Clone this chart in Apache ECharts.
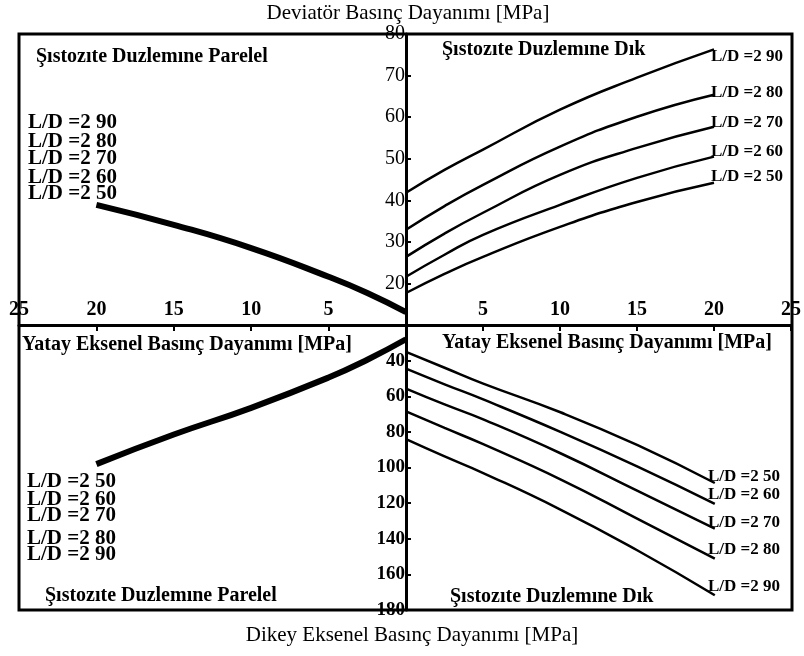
<!DOCTYPE html>
<html>
<head>
<meta charset="utf-8">
<script src="https://cdn.jsdelivr.net/npm/echarts@6/dist/echarts.min.js"></script>
<style>html,body{margin:0;padding:0;background:#fff;}#c{width:804px;height:656px;}</style>
</head>
<body>
<div id="c"></div>
<script>
// ---- data ----
var xHoriz = [0, 2.5, 5, 10, 15, 20];           // Yatay Eksenel Basınç Dayanımı [MPa]
var ldLabels = ['2 50', '2 60', '2 70', '2 80', '2 90'];
// upper right: Deviatör, Şıstozıte Duzlemıne Dık
var devDik250 = [17.7, 22.3, 26.4, 33.6, 39.6, 44.2];
var devDik260 = [21.6, 26.9, 31.7, 38.9, 45.4, 50.5];
var devDik270 = [26.4, 32.0, 37.0, 46.1, 52.6, 57.7];
var devDik280 = [32.9, 38.6, 43.7, 52.9, 60.1, 65.4];
var devDik290 = [41.8, 47.3, 52.2, 61.8, 69.5, 76.3];
// upper left: Deviatör, Parelel (all L/D coincide)
var devPar = [13.1, 17.7, 21.6, 28.5, 34.1, 38.9];
// lower right: Dikey, Dık
var dikDik250 = [35.1, 44.0, 52.9, 69.0, 87.5, 108.7];
var dikDik260 = [44.5, 53.3, 61.8, 80.0, 99.5, 120.4];
var dikDik270 = [55.7, 64.6, 73.0, 92.0, 113.1, 134.3];
var dikDik280 = [68.5, 77.8, 86.9, 106.6, 128.8, 151.1];
var dikDik290 = [84.1, 93.8, 103.1, 123.6, 146.6, 171.7];
// lower left: Dikey, Parelel
var dikPar = [28.0, 39.5, 49.5, 66.5, 81.5, 98.1];

var xTicks = [5, 10, 15, 20, 25];
var devTicks = [20, 30, 40, 50, 60, 70, 80];
var dikTicks = [40, 60, 80, 100, 120, 140, 160, 180];

function pairs(ys) { return xHoriz.map(function (x, i) { return [x, ys[i]]; }); }

var SERIF = '"Liberation Serif", "DejaVu Serif", serif';
var L = 19, C = 406, R = 792, T = 34, M = 325, B = 610;

var chart = echarts.init(document.getElementById('c'), null, {renderer: 'canvas'});

function xAxisVisible(gi, inv) {
  return {
    gridIndex: gi, type: 'value', min: 0, max: 25, interval: 5, inverse: inv, position: 'bottom',
    axisLine: {show: true, onZero: false, lineStyle: {color: '#000', width: 3}},
    axisTick: {show: true, inside: false, length: 6, lineStyle: {color: '#000', width: 2}},
    axisLabel: {inside: true, margin: 5, color: '#000', fontFamily: SERIF, fontWeight: 'bold', fontSize: 20,
      formatter: function (v) { return xTicks.indexOf(v) >= 0 ? String(v) : ''; }},
    splitLine: {show: false}
  };
}

var lineSeries = [];
function addLine(xi, yi, ys, w) {
  lineSeries.push({type: 'line', xAxisIndex: xi, yAxisIndex: yi, data: pairs(ys), smooth: 0.5,
    symbol: 'none', lineStyle: {color: '#000', width: w}, silent: true, z: 3});
}
[devDik250, devDik260, devDik270, devDik280, devDik290].forEach(function (s) { addLine(1, 1, s, 2.5); });
addLine(0, 0, devPar, 6);
[dikDik250, dikDik260, dikDik270, dikDik280, dikDik290].forEach(function (s) { addLine(3, 3, s, 2.5); });
addLine(2, 2, dikPar, 6);

var graphics = [];
function txt(x, y, s, size, weight, align) {
  graphics.push({type: 'text', x: x, y: y, z: 10, style: {text: s, fill: '#000', font: (weight || 'normal') + ' ' + size + 'px ' + SERIF,
    textAlign: align || 'left', textVerticalAlign: 'middle'}});
}
// frame
graphics.push({type: 'rect', z: 9, shape: {x: L, y: T, width: R - L, height: B - T}, style: {fill: 'none', stroke: '#000', lineWidth: 3}});
// titles
txt(408, 13, 'Deviatör Basınç Dayanımı [MPa]', 21, 'normal', 'center');
txt(412, 635, 'Dikey Eksenel Basınç Dayanımı [MPa]', 21, 'normal', 'center');
txt(36, 57, 'Şıstozıte Duzlemıne Parelel', 20, 'bold');
txt(442, 50, 'Şıstozıte Duzlemıne Dık', 20, 'bold');
txt(45, 596, 'Şıstozıte Duzlemıne Parelel', 20, 'bold');
txt(450, 597, 'Şıstozıte Duzlemıne Dık', 20, 'bold');
txt(22, 345, 'Yatay Eksenel Basınç Dayanımı [MPa]', 20, 'bold');
txt(442, 343, 'Yatay Eksenel Basınç Dayanımı [MPa]', 20, 'bold');
// L/D labels
var ulY = [194, 178, 159, 142, 123];
var llY = [482, 500, 516, 539, 555];
var urY = [177, 152, 123, 93, 57];
var lrY = [477, 495, 523, 550, 587];
ldLabels.forEach(function (s, i) {
  txt(28, ulY[i], 'L/D =' + s, 21, 'bold');
  txt(27, llY[i], 'L/D =' + s, 21, 'bold');
  txt(711, urY[i], 'L/D =' + s, 17, 'bold');
  txt(708, lrY[i], 'L/D =' + s, 17, 'bold');
});

chart.setOption({
  animation: false,
  backgroundColor: '#fff',
  grid: [
    {left: L, top: T, width: C - L, height: M - T},
    {left: C, top: T, width: R - C, height: M - T},
    {left: L, top: M, width: C - L, height: B - M},
    {left: C, top: M, width: R - C, height: B - M}
  ],
  xAxis: [
    xAxisVisible(0, true),
    xAxisVisible(1, false),
    {gridIndex: 2, type: 'value', min: 0, max: 25, inverse: true, show: false},
    {gridIndex: 3, type: 'value', min: 0, max: 25, show: false}
  ],
  yAxis: [
    {gridIndex: 0, type: 'value', min: 10, max: 80, show: false},
    {gridIndex: 1, type: 'value', min: 10, max: 80, interval: 10, position: 'left',
      axisLine: {show: true, onZero: false, lineStyle: {color: '#000', width: 3}},
      axisTick: {show: true, inside: true, length: 5, lineStyle: {color: '#000', width: 2}},
      axisLabel: {margin: 1, color: '#000', fontFamily: SERIF, fontSize: 20,
        formatter: function (v) { return devTicks.indexOf(v) >= 0 ? String(v) : ''; }},
      splitLine: {show: false}},
    {gridIndex: 2, type: 'value', min: 20, max: 180, inverse: true, show: false},
    {gridIndex: 3, type: 'value', min: 20, max: 180, interval: 20, inverse: true, position: 'left',
      axisLine: {show: true, onZero: false, lineStyle: {color: '#000', width: 3}},
      axisTick: {show: true, inside: true, length: 5, lineStyle: {color: '#000', width: 2}},
      axisLabel: {margin: 1, color: '#000', fontFamily: SERIF, fontWeight: 'bold', fontSize: 19,
        formatter: function (v) { return dikTicks.indexOf(v) >= 0 ? String(v) : ''; }},
      splitLine: {show: false}},
  ],
  series: lineSeries,
  graphic: graphics
});
</script>
</body>
</html>
